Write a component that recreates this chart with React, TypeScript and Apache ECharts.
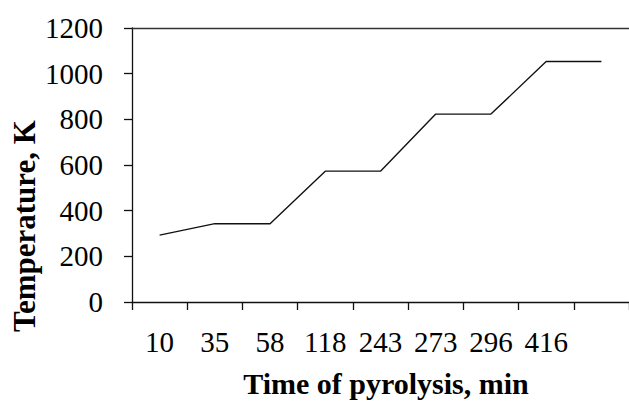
import React, { useEffect, useRef } from "react";
import * as echarts from "echarts";

const categories = ["10", "35", "58", "118", "243", "273", "296", "416", ""];
const temperatures = [293, 343, 343, 573, 573, 823, 823, 1053, 1053];
const xTitle = "Time of pyrolysis, min";
const yTitle = "Temperature, K";

export default function App() {
  const ref = useRef<HTMLDivElement>(null);
  useEffect(() => {
    if (!ref.current) return;
    const chart = echarts.init(ref.current, null, { renderer: "svg" });
    const font = "Liberation Serif";
    const labelStyle = {
      color: "#000",
      fontFamily: font,
      fontSize: 29,
      fontWeight: "normal",
      fontStyle: "normal",
    };
    chart.setOption({
      animation: false,
      backgroundColor: "#ffffff",
      textStyle: { fontFamily: font, fontSize: 29, color: "#000" },
      grid: { left: 132, right: -8, top: 28, bottom: 101, containLabel: false },
      xAxis: [
        {
          type: "category",
          data: categories,
          boundaryGap: true,
          axisLine: { show: true, lineStyle: { color: "#111", width: 1.3 } },
          axisTick: { show: true, length: 8, inside: false, lineStyle: { color: "#111", width: 1.3 } },
          axisLabel: { ...labelStyle, margin: 25, interval: 0 },
          splitLine: { show: false },
        },
        {
          type: "category",
          data: categories,
          position: "top",
          axisLine: { show: true, lineStyle: { color: "#333", width: 1.3 } },
          axisTick: { show: false },
          axisLabel: { show: false },
          splitLine: { show: false },
        },
      ],
      yAxis: {
        type: "value",
        min: 0,
        max: 1200,
        interval: 200,
        axisLine: { show: true, lineStyle: { color: "#111", width: 1.3 } },
        axisTick: { show: true, length: 8, inside: false, lineStyle: { color: "#111", width: 1.3 } },
        axisLabel: { ...labelStyle, margin: 29, formatter: (v: number) => String(v) },
        splitLine: { show: false },
      },
      graphic: [
        {
          type: "text",
          x: 386,
          y: 383,
          style: {
            text: xTitle,
            fontFamily: font,
            fontSize: 30,
            fontWeight: "bold",
            fill: "#000",
            align: "center",
            verticalAlign: "middle",
          },
        },
        {
          type: "text",
          x: 24,
          y: 226,
          rotation: Math.PI / 2,
          style: {
            text: yTitle,
            fontFamily: font,
            fontSize: 31,
            fontWeight: "bold",
            fill: "#000",
            align: "center",
            verticalAlign: "middle",
          },
        },
      ],
      series: [
        {
          type: "line",
          data: temperatures,
          symbol: "none",
          lineStyle: { color: "#111", width: 1.4 },
        },
      ],
    });
    return () => chart.dispose();
  }, []);
  return (
    <div
      ref={ref}
      style={{ position: "fixed", left: 0, top: 0, width: 629, height: 403 }}
    />
  );
}
